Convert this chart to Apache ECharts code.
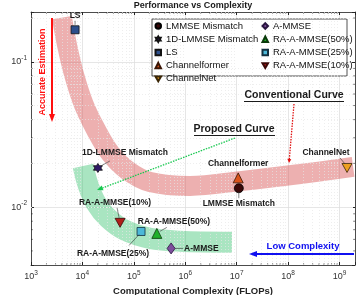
<!DOCTYPE html>
<html><head><meta charset="utf-8">
<script src="https://cdn.jsdelivr.net/npm/echarts@6/dist/echarts.min.js"></script>
<style>html,body{margin:0;padding:0;background:#fff}#c{width:357px;height:295px}</style>
</head><body><div id="c"></div>
<script>
// ---- data ----
const methods = ['LMMSE Mismatch','1D-LMMSE Mismatch','LS','Channelformer','ChannelNet','A-MMSE','RA-A-MMSE(50%)','RA-A-MMSE(25%)','RA-A-MMSE(10%)'];
const flops = [1.1e7, 2.0e4, 7.2e3, 1.07e7, 1.4e9, 5.3e5, 2.8e5, 1.38e5, 5.4e4];
const nmse  = [0.0135, 0.0186, 0.166, 0.0159, 0.0186, 0.0052, 0.0066, 0.0068, 0.0078];
// shaded trend bands (centre lines)
const convFlops = [4.0e3, 5.0e3, 6.9e3, 1.07e4, 1.84e4, 3.44e4, 7.4e4, 2.07e5, 1.24e6, 1.16e7, 1.71e8, 1.84e9];
const convMse   = [0.201, 0.131, 0.0813, 0.0505, 0.034, 0.0236, 0.018, 0.0149, 0.014, 0.0151, 0.0169, 0.0189];
const propFlops = [1.03e4, 1.29e4, 1.84e4, 3.15e4, 6.75e4, 2.07e5, 7.9e5, 8.1e6];
const propMse   = [0.0192, 0.0142, 0.01066, 0.0084, 0.00693, 0.0061, 0.00583, 0.00574];
const xRange = [1e3, 2e9];
const yRange = [0.004, 0.22];

// ---- styles ----
const hexagram = (() => { const p = []; for (let k = 0; k < 12; k++) { const r = k % 2 === 0 ? 10 : 5.77; const a = (-90 + 30 * k) * Math.PI / 180; p.push((r * Math.cos(a) + 10).toFixed(2) + ',' + (r * Math.sin(a) + 10).toFixed(2)); } return 'path://M' + p.join('L') + 'Z'; })();
const triDown = 'path://M0,0L10,0L5,8.66Z';
const markerStyle = [
  {symbol:'circle', size:9, color:'#3a0808', border:'#000'},
  {symbol:hexagram, size:9, color:'#2e1a66', border:'#111'},
  {symbol:'rect', size:8, color:'#2c4f8c', border:'#111'},
  {symbol:'triangle', size:10, color:'#d9531c', border:'#3a1606'},
  {symbol:triDown, size:[10,9], color:'#eea020', border:'#3a2606'},
  {symbol:'diamond', size:[8,11], color:'#7d4e9c', border:'#2a1640'},
  {symbol:'triangle', size:10, color:'#1fb02a', border:'#0a3a0a'},
  {symbol:'rect', size:8, color:'#4db8d8', border:'#123040'},
  {symbol:triDown, size:[10,9], color:'#b01e1a', border:'#3a0606'}
];

const chart = echarts.init(document.getElementById('c'), null, {renderer:'canvas'});
const grid = {left:31, top:12, right:2, bottom:30, containLabel:false, outerBoundsMode:'none'};

function powLabel(v) {
  const l = Math.log10(v), e = Math.round(l);
  if (Math.abs(l - e) > 1e-6) return '';
  return '{b|10}{s|' + e + '}';
}
const rich = {b:{fontSize:9, color:'#333', fontFamily:'Liberation Sans'}, s:{fontSize:6.5, color:'#333', fontFamily:'Liberation Sans', padding:[0,0,7,0]}};

const minorX = []; for (let e = 3; e <= 9; e++) for (let m = 2; m <= 9; m++) { const v = m * Math.pow(10, e); if (v < xRange[1]) minorX.push(v); }
const minorY = []; for (let e = -3; e <= -1; e++) for (let m = 2; m <= 9; m++) { const v = m * Math.pow(10, e); if (v > yRange[0] && v < yRange[1]) minorY.push(v); }

const frameAxis = {lineStyle:{color:'#262626', width:0.8}};
const series = [
  {type:'scatter', data:[], silent:true, z:1,
   markLine:{silent:true, symbol:'none', label:{show:false}, animation:false,
     lineStyle:{color:'#e6e6e6', type:[1,2], width:0.7},
     data: minorX.map(v => ({xAxis:v})).concat(minorY.map(v => ({yAxis:v})))}},
  {type:'line', name:'conv', data:convFlops.map((x,i)=>[x, convMse[i]]), smooth:0.35, showSymbol:false, silent:true, z:2,
   lineStyle:{color:'rgba(215,80,80,0.45)', width:20, cap:'butt'}},
  {type:'line', name:'prop', data:propFlops.map((x,i)=>[x, propMse[i]]), smooth:0.35, showSymbol:false, silent:true, z:2,
   lineStyle:{color:'rgba(40,190,100,0.4)', width:21, cap:'butt'}}
];
methods.forEach((n, i) => {
  const s = markerStyle[i];
  series.push({type:'scatter', name:n, data:[[flops[i], nmse[i]]], symbol:s.symbol, symbolSize:s.size, z:5,
    itemStyle:{color:s.color, borderColor:s.border, borderWidth:0.8, opacity:1}});
});

const legendCommon = {orient:'vertical', itemWidth:5.5, itemHeight:5.5, itemGap:3.2, padding:0, z:6,
  textStyle:{fontSize:9.5, color:'#111', fontFamily:'Liberation Sans', padding:[0,0,0,0]}, selectedMode:false};

chart.setOption({
  animation:false,
  grid: grid,
  legend:[
    Object.assign({left:154.5, top:21, data:methods.slice(0,5)}, legendCommon),
    Object.assign({left:261.5, top:21, data:methods.slice(5)}, legendCommon)
  ],
  xAxis:[
    {type:'log', min:xRange[0], max:xRange[1], position:'bottom',
     name:'Computational Complexity (FLOPs)', nameLocation:'middle', nameGap:18,
     nameTextStyle:{fontSize:9.5, fontWeight:'bold', color:'#222', fontFamily:'Liberation Sans'},
     axisLine:frameAxis, axisTick:{inside:true, length:3, lineStyle:{color:'#262626'}},
     axisLabel:{formatter:powLabel, rich:rich, margin:5},
     splitLine:{show:true, lineStyle:{color:'#e0e0e0', width:0.8}}},
    {type:'log', min:xRange[0], max:xRange[1], position:'top',
     axisLine:frameAxis, axisTick:{inside:true, length:3, lineStyle:{color:'#262626'}}, axisLabel:{show:false}, splitLine:{show:false}}
  ],
  yAxis:[
    {type:'log', min:yRange[0], max:yRange[1], position:'left',
     name:'Average Normalized MSE', nameLocation:'middle', nameGap:21, nameRotate:90,
     nameTextStyle:{fontSize:9.5, fontWeight:'bold', color:'#222', fontFamily:'Liberation Sans'},
     axisLine:frameAxis, axisTick:{inside:true, length:3, lineStyle:{color:'#262626'}},
     axisLabel:{formatter:powLabel, rich:rich, margin:4},
     splitLine:{show:true, lineStyle:{color:'#e0e0e0', width:0.8}}},
    {type:'log', min:yRange[0], max:yRange[1], position:'right',
     axisLine:frameAxis, axisTick:{inside:true, length:3, lineStyle:{color:'#262626'}}, axisLabel:{show:false}, splitLine:{show:false}}
  ],
  series: series
});

// ---- annotations ----
const F = 'Liberation Sans';
function txt(x, y, t, o) {
  o = o || {};
  return {type:'text', x:x, y:y, rotation:o.rot || 0, z:o.z || 7, silent:true,
    style:{text:t, fill:o.color || '#1a1a1a', font:(o.bold === false ? '' : 'bold ') + (o.size || 8.5) + 'px "' + F + '"',
      align:o.align || 'center', verticalAlign:'middle'}};
}
function seg(x1, y1, x2, y2, color, w, dash, z) {
  return {type:'line', z:z || 7, silent:true, shape:{x1:x1, y1:y1, x2:x2, y2:y2}, style:{stroke:color, lineWidth:w, lineDash:dash || null}};
}
function arrow(x1, y1, x2, y2, color, w, dash, hl, hw) {
  const dx = x2 - x1, dy = y2 - y1, L = Math.hypot(dx, dy), ux = dx / L, uy = dy / L;
  const bx = x2 - ux * hl, by = y2 - uy * hl;
  return [seg(x1, y1, bx, by, color, w, dash),
    {type:'polygon', z:7, silent:true, shape:{points:[[x2, y2], [bx - uy * hw / 2, by + ux * hw / 2], [bx + uy * hw / 2, by - ux * hw / 2]]}, style:{fill:color}}];
}
const P = i => chart.convertToPixel({seriesIndex:3 + i}, [flops[i], nmse[i]]);
const labelSpec = [
  [0, 0, 15, 'center', [0, 4, 0, 10]],
  [1, 27, -15, 'center', [3, -2, 12, -7]],
  [2, 0, -14, 'center', [0, -5, 0, -9]],
  [3, 0, -14, 'center', null],
  [4, -21, -15, 'center', [-2, -4, -7, -10]],
  [5, 13, 0, 'left', [4, 0, 12, 0]],
  [6, -19, -12, 'left', [3, -2, 10, -6]],
  [7, -28, 22, 'center', [-2, 3, -12, 14]],
  [8, -5, -20, 'center', [-1, -5, -3, -15]]
];
const g = [];
// minor tick marks on the box
const gx0 = grid.left, gx1 = 357 - grid.right, gy0 = grid.top, gy1 = 295 - grid.bottom;
minorX.forEach(v => { const px = chart.convertToPixel({xAxisIndex:0}, v); g.push(seg(px, gy1, px, gy1 - 1.8, '#262626', 0.6, null, 4)); g.push(seg(px, gy0, px, gy0 + 1.8, '#262626', 0.6, null, 4)); });
minorY.forEach(v => { const py = chart.convertToPixel({yAxisIndex:0}, v); g.push(seg(gx0, py, gx0 + 1.8, py, '#262626', 0.6, null, 4)); g.push(seg(gx1, py, gx1 - 1.8, py, '#262626', 0.6, null, 4)); });
g.push({type:'rect', z:3, silent:true, shape:{x:152, y:19, width:195, height:57}, style:{fill:'#fff', stroke:'#262626', lineWidth:0.8}});
labelSpec.forEach(([i, dx, dy, al, ld]) => {
  const p = P(i);
  g.push(txt(p[0] + dx, p[1] + dy, methods[i], {align:al}));
  if (ld) g.push(seg(p[0] + ld[0], p[1] + ld[1], p[0] + ld[2], p[1] + ld[3], '#333', 0.6));
});
g.push(txt(193, 6, 'Performance vs Complexity', {size:9}));
g.push(txt(43, 72, 'Accurate Estimation', {color:'#ff1010', size:9, rot:Math.PI / 2}));
g.push(...arrow(52, 18, 52, 122, '#ff1010', 2, null, 8, 6));
g.push(txt(294, 95, 'Conventional Curve', {size:10.5}));
g.push(seg(244, 101.5, 344, 101.5, '#1a1a1a', 1));
g.push(...arrow(294, 104, 289, 163, '#e01010', 1.3, [1.5, 1.2], 4, 4));
g.push(txt(234, 129, 'Proposed Curve', {size:10.5}));
g.push(seg(194, 135.5, 275, 135.5, '#1a1a1a', 1));
g.push(...arrow(235, 138, 97, 190, '#18c850', 1.3, [1.5, 1.2], 6, 5));
g.push(txt(303, 246, 'Low Complexity', {color:'#1010f0', size:9.5}));
g.push(...arrow(354, 254, 249, 254, '#1010f0', 2, null, 8, 6));
chart.setOption({graphic:{elements:g}});
</script></body></html>
